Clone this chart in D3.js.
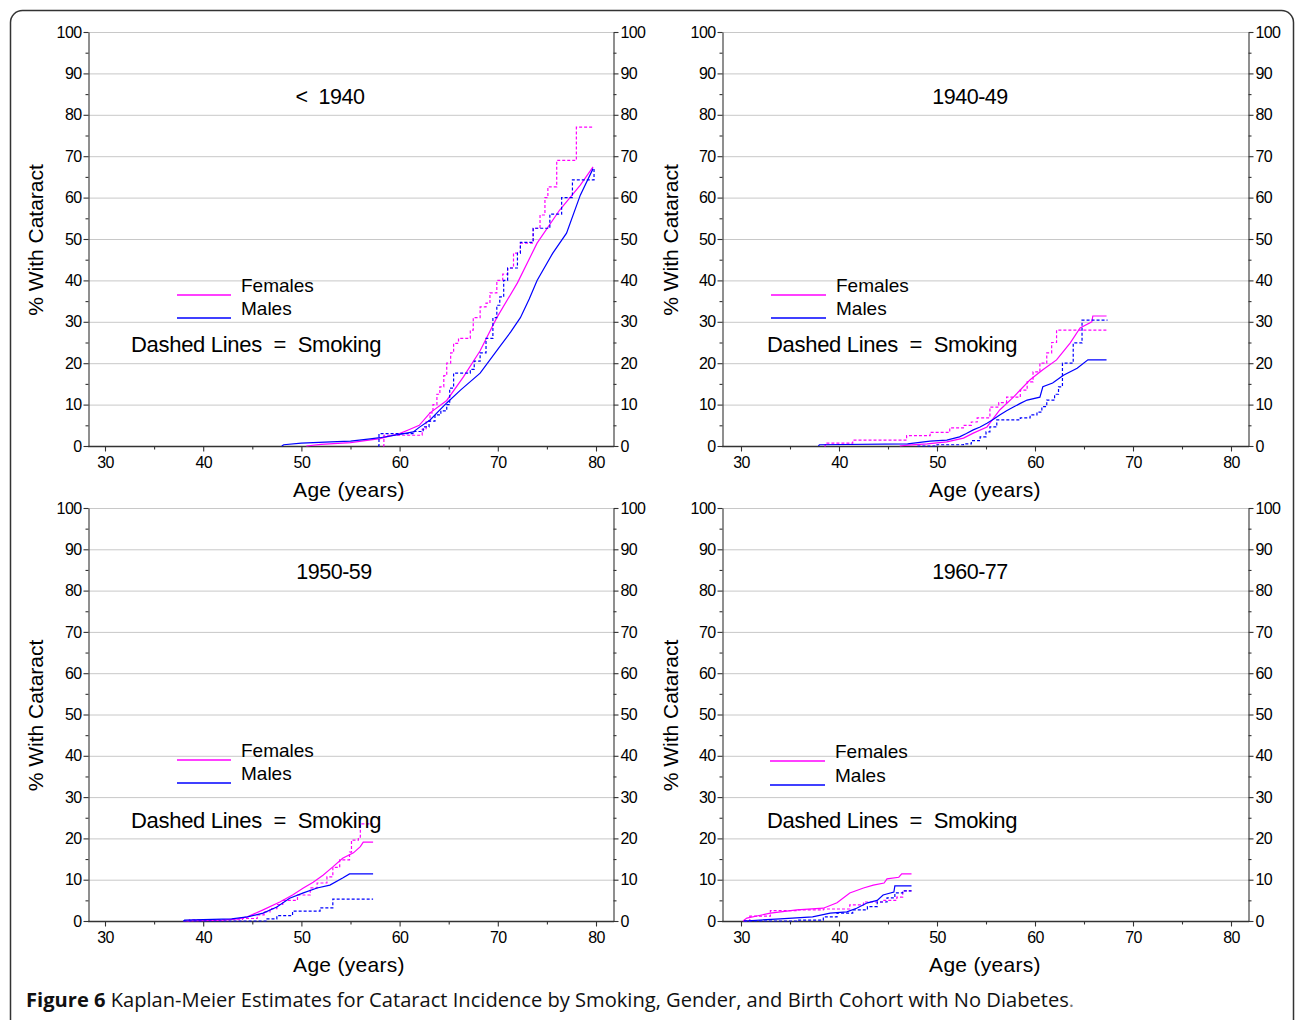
<!DOCTYPE html>
<html><head><meta charset="utf-8">
<script src="https://cdn.jsdelivr.net/npm/d3@7"></script>
<style>body{margin:0;background:#fff} svg{display:block}</style>
</head><body>
<svg id="c" width="1295" height="1020"></svg>
<script>
// ---------------- DATA ----------------
const cohortTitles = ["<  1940", "1940-49", "1950-59", "1960-77"];
const yMajorTicks = [0,10,20,30,40,50,60,70,80,90,100];
const yMinorTicks = [5,15,25,35,45,55,65,75,85,95];
const xMajorTicks = [30,40,50,60,70,80];
const xMinorTicks = [35,45,55,65,75];
const legendLabels = ["Females", "Males"];
const noteText = "Dashed Lines  =  Smoking";
const yAxisTitle = "% With Cataract";
const xAxisTitle = "Age (years)";
const captionBold = "Figure 6";
const captionText = " Kaplan-Meier Estimates for Cataract Incidence by Smoking, Gender, and Birth Cohort with No Diabetes";

// [age, % with cataract]
const pre1940_female = [[50.5,0],[52,0.4],[55,0.8],[58,1.8],[60,3],[61,4],[62,5],[63.1,8],[64.8,11],[66.5,16.7],[68.2,23],[69.9,31],[72,39.4],[74,49],[76.3,57],[78.4,63],[79.7,67.4]];
const pre1940_femaleSmoke = [[58.3,0],[58.4,2.6],[62.3,4],[62.7,6],[63.1,8],[63.4,10],[63.8,12.5],[64.1,14.3],[64.5,17],[64.8,20],[65.2,22.5],[65.5,24.8],[66,26],[67.2,28],[67.5,31],[68.2,33.6],[68.8,34.5],[69.2,37],[69.9,40],[70.5,41.5],[71,43],[71.6,46.6],[72.3,49],[73.6,52.6],[74.3,55.8],[74.8,60],[75.1,62.6],[76,69],[78,77],[79.8,77]];
const pre1940_male = [[48,0],[48.2,0.3],[50,0.7],[53,1],[55,1.2],[57,1.7],[58,2],[60,2.8],[61.4,3.4],[62,4.5],[63.1,6.3],[64,8.5],[64.8,10.4],[66.2,13.5],[68.2,17.6],[70.2,24],[71.3,27.5],[72.3,31],[73.2,35.5],[74,40],[75.6,46.6],[77,51.4],[78.4,60.6],[79.7,67]];
const pre1940_maleSmoke = [[57.8,0],[57.9,3],[61.5,3.5],[62.4,4.6],[63,6],[63.6,7.5],[64.2,8.5],[64.8,10],[65.1,14],[65.5,17.6],[67.2,18.5],[67.6,20.5],[68.2,22.5],[68.8,26],[69.5,31],[69.9,34],[70.2,36],[70.6,40],[71,43],[72,46.6],[72.3,49.2],[73.6,52.6],[75.3,56],[76.5,60],[77.6,64.3],[79.8,67]];

const c1940_female = [[46.2,0],[47,0.2],[49,0.5],[51,1],[52.7,1.9],[53.7,3.1],[55.1,4.6],[56.4,8.7],[57.8,11.8],[59.5,16],[60.8,18.4],[62.2,20.8],[63.6,24.9],[64.6,28.5],[65.8,30],[65.9,31.4],[67.3,31.4]];
const c1940_femaleSmoke = [[38.5,0],[38.6,0.7],[41.4,1.4],[46.9,2.5],[49.3,3.3],[51.3,4.4],[52.7,5],[53.5,5.8],[54.1,6.8],[55.4,9.4],[56.3,10.5],[57.1,11.8],[58.5,13.5],[59.2,15.5],[59.8,17.9],[60.5,20],[61.2,22.5],[61.7,25],[62.2,28],[67.3,28]];
const c1940_male = [[37.9,0],[38,0.3],[47,0.5],[49.3,1.2],[51,1.4],[52.3,2.2],[53,3],[53.7,3.9],[54.4,4.6],[55.1,5.5],[55.8,6.5],[56.4,7.5],[57.1,8.5],[57.8,9.4],[58.5,10.3],[59.2,11.1],[60.5,11.8],[60.8,14.3],[61.8,15.2],[62.9,17.1],[64.3,18.8],[65.4,20.8],[67.3,20.8]];
const c1940_maleSmoke = [[48,0],[50,0.3],[52.7,0.5],[53.5,1.3],[54.4,2.2],[55,3.4],[55.4,4.6],[56.1,6.3],[58.5,6.8],[59.5,7.5],[60.2,8.2],[60.7,9.5],[61.2,11.1],[62,12.5],[62.4,14.3],[62.8,20],[63.9,24.9],[64.8,30.4],[67.4,30.4]];

const c1950_female = [[38,0],[42,0.2],[43.5,0.5],[44.5,1],[46.1,2.7],[47.8,4.6],[49.1,6.3],[50.2,8],[51.2,9.4],[52.2,11.1],[53.2,13.1],[54.2,15.2],[55.3,16.5],[56,18],[56.3,19.1],[57.3,19.1]];
const c1950_femaleSmoke = [[38.5,0],[38.6,0.3],[44,0.6],[45.5,1.5],[46.2,2.2],[46.8,3],[47.5,4],[48.1,5],[49.6,6.3],[50.9,8],[51.6,9.2],[52.6,10.7],[53.2,13],[53.9,14.8],[54.9,16.7],[55.1,19.6],[55.8,20.3],[56,23.5],[57.3,23.5]];
const c1950_male = [[38,0],[38.1,0.2],[42.9,0.5],[44.5,1],[46.1,1.9],[47.5,3.4],[48.8,5.5],[50.2,6.8],[51.6,8],[52.9,8.7],[54.2,10.4],[54.9,11.4],[57.3,11.4]];
const c1950_maleSmoke = [[38,0],[46.5,0.5],[47.5,1.3],[49.1,2.4],[51.9,3.2],[53.2,5.3],[57.3,5.3]];

const c1960_female = [[30.2,0],[30.6,0.7],[33,1.9],[35.7,2.7],[38.4,3.1],[39.8,4.4],[41.1,6.8],[42.5,8],[43.5,8.7],[44.6,9.2],[44.9,10.2],[46.1,10.6],[46.4,11.4],[47.4,11.4]];
const c1960_femaleSmoke = [[30.3,0],[30.9,1.2],[33,2.5],[35.7,2.7],[38.4,2.9],[41.1,3.9],[42.5,4.6],[44.5,5],[45.9,5.8],[46.5,7.3],[47.4,7.3]];
const c1960_male = [[30.3,0],[34,0.5],[37.3,1],[39.1,1.9],[40.8,2.2],[41.8,3.1],[42.9,4.4],[43.9,5],[44.5,6.3],[45.6,7],[45.7,8.5],[47.4,8.5]];
const c1960_maleSmoke = [[30.3,0],[35.7,0.2],[38.4,1],[39.8,1.9],[41.4,2.7],[42.9,3.5],[43.9,4.6],[44.9,5.6],[45.7,6.8],[46.5,7.3],[47.4,7.3]];

const cohortSeries = [
  [pre1940_female, pre1940_femaleSmoke, pre1940_male, pre1940_maleSmoke],
  [c1940_female, c1940_femaleSmoke, c1940_male, c1940_maleSmoke],
  [c1950_female, c1950_femaleSmoke, c1950_male, c1950_maleSmoke],
  [c1960_female, c1960_femaleSmoke, c1960_male, c1960_maleSmoke]
];

// ---------------- LAYOUT / STYLE ----------------
const FONT = "'Liberation Sans', Arial, sans-serif";
const MAGENTA = "#ff00ff", BLUE = "#0000ff";
const seriesStyle = [
  {color: MAGENTA, dash: null, curve: d3.curveLinear},
  {color: MAGENTA, dash: "3,2", curve: d3.curveStepAfter},
  {color: BLUE, dash: null, curve: d3.curveLinear},
  {color: BLUE, dash: "3,2", curve: d3.curveStepAfter}
];
const layouts = [
  {x30:105, x80:596, axL:88, axR:613, y100:32, y0:446, titleX:330, titleY:97, legLineX:[177,231], legTextX:241, legY:[295,318], legTextY:[285,308], noteX:131, noteY:344, yLabX:35, xLabX:349, xLabY:489},
  {x30:741, x80:1231, axL:722, axR:1248, y100:32, y0:446, titleX:970, titleY:97, legLineX:[771,826], legTextX:836, legY:[295,318], legTextY:[285,308], noteX:767, noteY:344, yLabX:670, xLabX:985, xLabY:489},
  {x30:105, x80:596, axL:88, axR:613, y100:508, y0:921, titleX:334, titleY:572, legLineX:[177,231], legTextX:241, legY:[760,783], legTextY:[750,773], noteX:131, noteY:820, yLabX:35, xLabX:349, xLabY:964},
  {x30:741, x80:1231, axL:722, axR:1248, y100:508, y0:921, titleX:970, titleY:572, legLineX:[770,825], legTextX:835, legY:[761,785], legTextY:[751,775], noteX:767, noteY:820, yLabX:670, xLabX:985, xLabY:964}
];

const svg = d3.select("#c");
svg.append("rect").attr("width",1295).attr("height",1020).attr("fill","#fff");
svg.append("rect").attr("x",10.5).attr("y",10.5).attr("width",1283).attr("height",1040)
  .attr("rx",12).attr("fill","none").attr("stroke","#333").attr("stroke-width",1.5);

function fitWidth(sel, w) {
  const node = sel.node();
  const fs = parseFloat(sel.attr("font-size"));
  const cur = node.getComputedTextLength();
  if (cur > 0) sel.attr("font-size", (fs * w / cur).toFixed(2));
}

layouts.forEach((L, i) => {
  const g = svg.append("g");
  const x = d3.scaleLinear().domain([30,80]).range([L.x30, L.x80]);
  const y = d3.scaleLinear().domain([0,100]).range([L.y0, L.y100]);

  // gridlines
  g.append("g").selectAll("line").data(yMajorTicks.filter(v => v > 0)).join("line")
    .attr("x1", L.axL).attr("x2", L.axR)
    .attr("y1", d => y(d) + 0.5).attr("y2", d => y(d) + 0.5)
    .attr("stroke", "#c8c8c8").attr("stroke-width", 1);

  // left axis
  const left = g.append("g").attr("transform", `translate(${L.axL + 0.5},0)`);
  left.call(d3.axisLeft(y).tickValues(yMajorTicks).tickSize(5).tickSizeOuter(0).tickPadding(2));
  left.append("g").call(d3.axisLeft(y).tickValues(yMinorTicks).tickSize(3).tickFormat(""))
    .select(".domain").remove();
  const right = g.append("g").attr("transform", `translate(${L.axR + 0.5},0)`);
  right.call(d3.axisRight(y).tickValues(yMajorTicks).tickSize(5).tickSizeOuter(0).tickPadding(2));
  right.append("g").call(d3.axisRight(y).tickValues(yMinorTicks).tickSize(3).tickFormat(""))
    .select(".domain").remove();

  // x axis
  const bottom = g.append("g").attr("transform", `translate(0,${L.y0 + 0.5})`);
  bottom.call(d3.axisBottom(x).tickValues(xMajorTicks).tickSize(5).tickPadding(5));
  bottom.select(".domain").remove();
  bottom.append("g").call(d3.axisBottom(x).tickValues(xMinorTicks).tickSize(3).tickFormat(""))
    .select(".domain").remove();
  g.append("line").attr("x1", L.axL).attr("x2", L.axR + 1).attr("y1", L.y0 + 0.5).attr("y2", L.y0 + 0.5)
    .attr("stroke", "#333").attr("stroke-width", 1.3);

  g.selectAll(".tick text").attr("font-family", FONT).attr("font-size", 16)
    .attr("fill", "#000").attr("letter-spacing", "-0.6px");
  g.selectAll(".domain, .tick line").attr("stroke", "#333").attr("stroke-width", 1.1);

  // series
  const line = d3.line().x(d => x(d[0])).y(d => y(d[1]));
  cohortSeries[i].forEach((s, k) => {
    const st = seriesStyle[k];
    g.append("path").datum(s)
      .attr("d", line.curve(st.curve))
      .attr("fill", "none").attr("stroke", st.color).attr("stroke-width", 1.2)
      .attr("stroke-dasharray", st.dash);
  });

  // title
  g.append("text").attr("x", L.titleX).attr("y", L.titleY).attr("text-anchor", "middle")
    .attr("dominant-baseline", "central").attr("font-family", FONT).attr("font-size", 21.5)
    .style("white-space", "pre").attr("letter-spacing", "-0.5px").text(cohortTitles[i]);

  // legend
  [MAGENTA, BLUE].forEach((c, k) => {
    g.append("line").attr("x1", L.legLineX[0]).attr("x2", L.legLineX[1])
      .attr("y1", L.legY[k]).attr("y2", L.legY[k]).attr("stroke", c).attr("stroke-width", 1.3);
    g.append("text").attr("x", L.legTextX).attr("y", L.legTextY[k]).attr("dominant-baseline", "central")
      .attr("font-family", FONT).attr("font-size", 19).text(legendLabels[k]);
  });
  g.append("text").attr("x", L.noteX).attr("y", L.noteY).attr("dominant-baseline", "central")
    .attr("font-family", FONT).attr("font-size", 22).attr("letter-spacing", "-0.3px")
    .style("white-space", "pre").text(noteText);

  // axis titles
  g.append("text").attr("transform", `translate(${L.yLabX},${(L.y0 + L.y100) / 2 + 1}) rotate(-90)`)
    .attr("text-anchor", "middle").attr("dominant-baseline", "central")
    .attr("font-family", FONT).attr("font-size", 21).text(yAxisTitle);
  g.append("text").attr("x", L.xLabX).attr("y", L.xLabY).attr("text-anchor", "middle")
    .attr("dominant-baseline", "central").attr("font-family", FONT).attr("font-size", 21)
    .attr("letter-spacing", "0.3px").text(xAxisTitle);
});

// caption
const cap = svg.append("text").attr("x", 26).attr("y", 1007)
  .attr("font-family", "'Open Sans', 'Noto Sans', sans-serif").attr("font-size", 18).attr("fill", "#111");
cap.append("tspan").attr("font-weight", "bold").text(captionBold);
cap.append("tspan").text(captionText);
cap.append("tspan").attr("fill", "#777").text(".");
fitWidth(cap, 1048);
</script>
</body></html>
